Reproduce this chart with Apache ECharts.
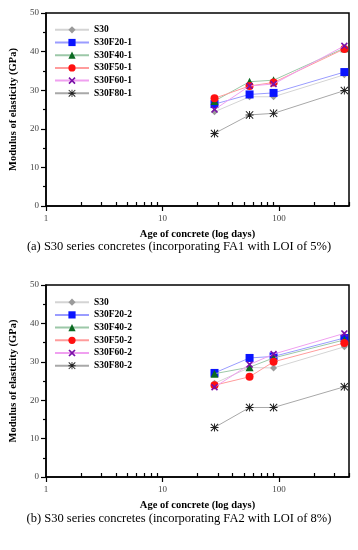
<!DOCTYPE html>
<html><head><meta charset="utf-8">
<script src="https://cdn.jsdelivr.net/npm/echarts@6/dist/echarts.min.js"></script>
<style>html,body{margin:0;padding:0;background:#fff}#c{width:358px;height:550px}</style>
</head><body><div id="c"></div>
<script>
// ---- data ----
var ages = [28, 56, 90, 365];
var xMajorTicks = [1, 10, 100];
var xMinorTicks = [2,3,4,5,6,7,8,9,20,30,40,50,60,70,80,90,200,300,400];
var namesA = ['S30','S30F20-1','S30F40-1','S30F50-1','S30F60-1','S30F80-1'];
var namesB = ['S30','S30F20-2','S30F40-2','S30F50-2','S30F60-2','S30F80-2'];
var a_S30   = [24.4, 28.3, 28.3, 34.0];
var a_F20   = [26.4, 28.9, 29.3, 34.7];
var a_F40   = [27.2, 32.2, 32.6, 40.9];
var a_F50   = [27.9, 31.1, 32.0, 40.7];
var a_F60   = [25.0, 31.1, 31.6, 41.5];
var a_F80   = [18.8, 23.6, 24.0, 29.9];
var b_S30   = [24.4, 28.5, 28.4, 33.9];
var b_F20   = [27.1, 31.0, 31.4, 36.2];
var b_F40   = [26.9, 28.6, 31.0, 35.7];
var b_F50   = [23.9, 26.1, 30.0, 34.9];
var b_F60   = [23.4, 29.3, 32.0, 37.4];
var b_F80   = [12.9, 18.1, 18.1, 23.5];
var captionA = '(a) S30 series concretes (incorporating FA1 with LOI of 5%)';
var captionB = '(b) S30 series concretes (incorporating FA2 with LOI of 8%)';
var xTitle = 'Age of concrete (log days)';
var yTitle = 'Modulus of elasticity (GPa)';

// ---- styles ----
var xPath = 'path://M0,1.6 L1.6,0 L5,3.4 L8.4,0 L10,1.6 L6.6,5 L10,8.4 L8.4,10 L5,6.6 L1.6,10 L0,8.4 L3.4,5 Z';
var astPath = 'path://M4.4,0 H5.6 V10 H4.4 Z M0,4.4 H10 V5.6 H0 Z M0.9,0 L5,4.1 L9.1,0 L10,0.9 L5.9,5 L10,9.1 L9.1,10 L5,5.9 L0.9,10 L0,9.1 L4.1,5 L0,0.9 Z';
var styles = [
  {symbol:'diamond', size:7, color:'#9a9a9a', border:'#666', line:'#d4d4d4'},
  {symbol:'rect', size:8, color:'#0a14ff', border:'#0a14ff', line:'#9a9cff'},
  {symbol:'triangle', size:8, color:'#0b6a22', border:'#0b6a22', line:'#9cc8a8'},
  {symbol:'circle', size:8, color:'#ff1010', border:'#ff1010', line:'#ff9c9c'},
  {symbol:xPath, size:7, color:'#7a10a8', border:'#7a10a8', line:'#f0a0f0'},
  {symbol:astPath, size:8, color:'#222', border:'#222', line:'#a8a8a8'}
];
var font = 'Liberation Serif';

function mkSeries(names, datas, gi) {
  return names.map(function (n, i) {
    var s = styles[i];
    return {
      name: n, type: 'line', xAxisIndex: gi*2, yAxisIndex: gi,
      data: ages.map(function (a, j) { return [a, datas[i][j]]; }),
      symbol: s.symbol, symbolSize: s.size,
      itemStyle: {color: s.color, borderColor: s.border, borderWidth: 0},
      lineStyle: {color: s.line, width: 1},
      z: 2 + i,
      emphasis: {disabled: true}, animation: false
    };
  });
}

function xAxes(gi) {
  return [
    {type:'log', gridIndex: gi, min:1, max:400, logBase:10,
     name: xTitle, nameLocation:'middle', nameGap: 23,
     nameTextStyle:{fontFamily:font, fontWeight:'bold', fontSize:10.5, color:'#000'},
     axisLine:{show:true, lineStyle:{color:'#000', width:1.5}},
     axisTick:{show:true, length:5, lineStyle:{color:'#000', width:1.2}, customValues: xMajorTicks},
     axisLabel:{fontFamily:font, fontSize:9, color:'#444', margin:8, customValues: xMajorTicks},
     splitLine:{show:false}, minorTick:{show:false}},
    {type:'log', gridIndex: gi, min:1, max:400, logBase:10, position:'bottom',
     axisLine:{show:false},
     axisTick:{show:true, inside:true, length:4, lineStyle:{color:'#000', width:1.2}, customValues: xMinorTicks},
     axisLabel:{show:false}, splitLine:{show:false}}
  ];
}
function yAxis(gi) {
  return {type:'value', gridIndex: gi, min:0, max:50, interval:10,
    name: yTitle, nameLocation:'middle', nameGap: 27,
    nameTextStyle:{fontFamily:font, fontWeight:'bold', fontSize:10.5, color:'#000'},
    axisLine:{show:true, lineStyle:{color:'#000', width:1.5}},
    axisTick:{show:true, length:5, lineStyle:{color:'#000', width:1.2}},
    minorTick:{show:true, splitNumber:2, length:3, lineStyle:{color:'#000', width:1.2}},
    axisLabel:{fontFamily:font, fontSize:9, color:'#444', margin:7},
    splitLine:{show:false}};
}
function legend(names, top) {
  return {orient:'vertical', left:54, top: top, padding:0, itemWidth:34, itemHeight:9, itemGap:2.7,
    data: names, selectedMode:false,
    itemStyle:{borderWidth:0},
    textStyle:{fontFamily:font, fontWeight:'bold', fontSize:9.5, color:'#000'}};
}

var chart = echarts.init(document.getElementById('c'), null, {renderer:'canvas'});
chart.setOption({
  animation:false,
  grid:[
    {left:41, top:13, width:308, height:193, show:true, borderColor:'#000', borderWidth:1.5},
    {left:41, top:285, width:308, height:192, show:true, borderColor:'#000', borderWidth:1.5}
  ],
  xAxis: xAxes(0).concat(xAxes(1)),
  yAxis: [yAxis(0), yAxis(1)],
  legend: [legend(namesA, 24.8), legend(namesB, 297.2)],
  series: mkSeries(namesA, [a_S30,a_F20,a_F40,a_F50,a_F60,a_F80], 0)
    .concat(mkSeries(namesB, [b_S30,b_F20,b_F40,b_F50,b_F60,b_F80], 1)),
  graphic:[
    {type:'text', left:'center', top:240.5, style:{text:captionA, fontFamily:font, fontSize:12.5, fill:'#000'}},
    {type:'text', left:'center', top:512.5, style:{text:captionB, fontFamily:font, fontSize:12.5, fill:'#000'}}
  ]
});
</script></body></html>
